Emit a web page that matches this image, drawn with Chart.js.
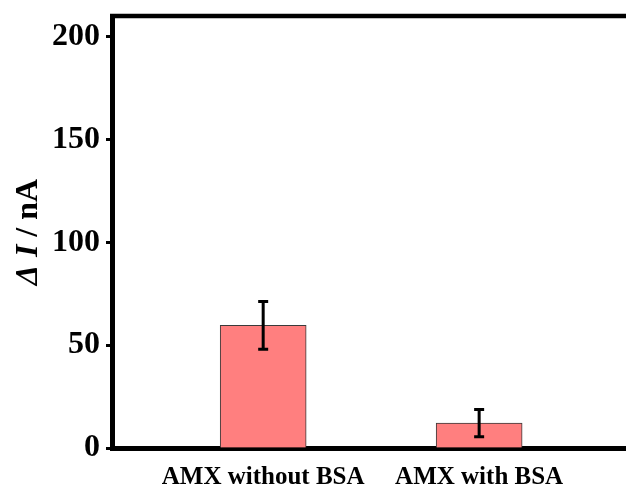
<!DOCTYPE html>
<html>
<head>
<meta charset="utf-8">
<script src="https://cdn.jsdelivr.net/npm/chart.js@4/dist/chart.umd.min.js"></script>
<style>
html,body{margin:0;padding:0;background:#fff;}
#wrap{width:626px;height:492px;position:relative;}
</style>
</head>
<body>
<div id="wrap"><canvas id="c" width="626" height="492"></canvas></div>
<script>
const categories = ["AMX without BSA", "AMX with BSA"];
const positions = [1, 2];
const values = [59.6, 12.1];
const errors = [11.6, 6.6];
const yTicks = [0, 50, 100, 150, 200];
const yMin = 0, yMax = 210;
const xMin = 0.3, xMax = 2.68;

const serif = "'Liberation Serif', 'Times New Roman', serif";

const errorBarPlugin = {
  id: 'errorBars',
  afterDatasetsDraw(chart) {
    const ctx = chart.ctx;
    const xs = chart.scales.x, ys = chart.scales.y;
    ctx.save();
    ctx.strokeStyle = '#000';
    ctx.lineWidth = 3;
    for (let i = 0; i < values.length; i++) {
      const x = xs.getPixelForValue(positions[i]);
      const yt = ys.getPixelForValue(values[i] + errors[i]);
      const yb = ys.getPixelForValue(values[i] - errors[i]);
      ctx.beginPath();
      ctx.moveTo(x, yt); ctx.lineTo(x, yb);
      ctx.moveTo(x - 5, yt); ctx.lineTo(x + 5, yt);
      ctx.moveTo(x - 5, yb); ctx.lineTo(x + 5, yb);
      ctx.stroke();
    }
    ctx.restore();
  }
};

const frameAndTitlePlugin = {
  id: 'frameTitle',
  afterDraw(chart) {
    const ctx = chart.ctx;
    const a = chart.chartArea;
    ctx.save();
    ctx.strokeStyle = '#000';
    ctx.lineWidth = 4.5;
    ctx.beginPath();
    ctx.moveTo(a.left - 2, a.top);
    ctx.lineTo(chart.width, a.top);
    ctx.stroke();
    const parts = [
      {t: 'Δ', f: 'italic bold 32px ' + serif},
      {t: ' ', f: 'bold 32px ' + serif},
      {t: 'I', f: 'italic bold 32px ' + serif},
      {t: ' / nA', f: 'bold 32px ' + serif}
    ];
    let total = 0;
    parts.forEach(p => { ctx.font = p.f; p.w = ctx.measureText(p.t).width; total += p.w; });
    const cx = 29, cy = 232;
    ctx.translate(cx, cy);
    ctx.rotate(-Math.PI / 2);
    ctx.fillStyle = '#000';
    ctx.textBaseline = 'middle';
    let x = -total / 2;
    parts.forEach(p => { ctx.font = p.f; ctx.fillText(p.t, x, 0); x += p.w; });
    ctx.restore();
  }
};

new Chart(document.getElementById('c'), {
  type: 'bar',
  data: {
    datasets: [{
      data: positions.map((p, i) => ({x: p, y: values[i]})),
      backgroundColor: '#FF7F7F',
      borderColor: '#3a3a3a',
      borderWidth: 1,
      barThickness: 86
    }]
  },
  options: {
    responsive: false,
    animation: false,
    devicePixelRatio: 1,
    layout: {padding: {left: 46, right: 0, top: 16, bottom: 0}},
    plugins: {legend: {display: false}, tooltip: {enabled: false}},
    scales: {
      x: {
        type: 'linear',
        min: xMin, max: xMax,
        offset: false,
        grid: {display: false, offset: false, drawTicks: false},
        border: {display: true, color: '#000', width: 5},
        afterBuildTicks(scale) { scale.ticks = positions.map(v => ({value: v})); },
        afterFit(scale) { scale.paddingLeft = 0; scale.paddingRight = 0; scale.paddingTop = 0; scale.paddingBottom = 0; scale.height = 44; },
        ticks: {
          padding: 15,
          color: '#000',
          font: {family: serif, size: 25, weight: 'bold'},
          maxRotation: 0,
          autoSkip: false,
          callback: (v) => categories[positions.indexOf(v)] || ''
        }
      },
      y: {
        min: yMin, max: yMax,
        afterBuildTicks(scale) { scale.ticks = yTicks.map(v => ({value: v})); },
        afterFit(scale) { scale.paddingTop = 0; scale.paddingBottom = 0; },
        grid: {display: true, drawOnChartArea: false, drawTicks: true, tickLength: 6, tickWidth: 3, tickColor: '#000'},
        border: {display: true, color: '#000', width: 5},
        ticks: {
          padding: 6,
          color: '#000',
          font: {family: serif, size: 32, weight: 'bold'}
        }
      }
    }
  },
  plugins: [errorBarPlugin, frameAndTitlePlugin]
});
</script>
</body>
</html>
